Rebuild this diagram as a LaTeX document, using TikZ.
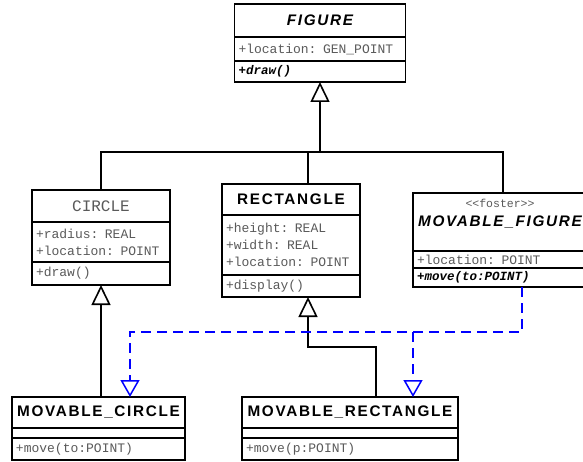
\documentclass[tikz,border=0pt]{standalone}
\usepackage{fontspec}
\setmainfont{Liberation Sans}
\newfontfamily\titlefont[LetterSpace=11]{Liberation Sans}
\newfontfamily\memberfont{Liberation Mono}
\usetikzlibrary{arrows.meta,positioning}
\definecolor{umlblue}{RGB}{0,0,255}
\definecolor{umlgray}{RGB}{90,90,90}
\tikzset{
  classpart/.style={draw, line width=1.6pt, fill=white, inner xsep=4pt, inner ysep=0pt, outer sep=0pt},
  classname/.style={classpart, align=center, font=\titlefont\bfseries\fontsize{15.3}{18}\selectfont},
  members/.style={classpart, align=left, text=umlgray, font=\memberfont\fontsize{13}{17}\selectfont},
  abstractop/.style={members, text=black, font=\memberfont\bfseries\itshape\fontsize{12.5}{17}\selectfont},
  tree/.style={line width=1.6pt},
  inherit/.style={tree, -{Triangle[open, length=20pt, width=19pt, fill=white]}},
  realize/.style={line width=1.5pt, umlblue, dash pattern=on 10pt off 6pt, -{Triangle[open, length=17pt, width=19pt, fill=white]}},
}
\begin{document}
\begin{tikzpicture}[x=1pt, y=1pt]
\clip (0,0) rectangle (583,-462);

% FIGURE
\node[classname, text width=163pt, minimum height=33pt, anchor=north] (figure) at (320,-4) {\itshape FIGURE};
\node[members, text width=163pt, minimum height=24pt, below=0pt of figure] (figattr) {+location: GEN\_POINT};
\node[abstractop, text width=163pt, minimum height=21pt, below=0pt of figattr] (figmeth) {+draw()};

% CIRCLE
\node[classname, font=\memberfont\fontsize{16}{19}\selectfont, text=umlgray, text width=130pt, minimum height=32pt, anchor=north] (circle) at (101,-190) {CIRCLE};
\node[members, text width=130pt, minimum height=40pt, below=0pt of circle] (circattr) {+radius: REAL\\+location: POINT};
\node[members, text width=130pt, minimum height=23pt, below=0pt of circattr] (circmeth) {+draw()};

% RECTANGLE
\node[classname, text width=130pt, minimum height=31pt, anchor=north] (rect) at (291,-184) {RECTANGLE};
\node[members, text width=130pt, minimum height=60pt, below=0pt of rect] (rectattr) {+height: REAL\\+width: REAL\\+location: POINT};
\node[members, text width=130pt, minimum height=22pt, below=0pt of rectattr] (rectmeth) {+display()};

% MOVABLE_FIGURE
\node[classname, text width=166pt, minimum height=58pt, anchor=north] (movfig) at (500,-193)
  {{\memberfont\mdseries\fontsize{11.5}{14}\selectfont\color{umlgray}<\kern0pt<foster>\kern0pt>}\\[1pt]
   \itshape MOVABLE\_FIGURE\\[1pt] \mbox{}};
\node[members, text width=166pt, minimum height=17pt, below=0pt of movfig] (movfigattr) {+location: POINT};
\node[abstractop, text width=166pt, minimum height=19pt, below=0pt of movfigattr] (movfigmeth) {+move(to:POINT)};

% MOVABLE_CIRCLE
\node[classname, text width=165pt, minimum height=31pt, anchor=north] (movcircle) at (98.5,-397) {MOVABLE\_CIRCLE};
\node[members, text width=165pt, minimum height=10pt, below=0pt of movcircle] (movcircattr) {};
\node[members, text width=165pt, minimum height=22pt, below=0pt of movcircattr] (movcircmeth) {+move(to:POINT)};

% MOVABLE_RECTANGLE
\node[classname, text width=208pt, minimum height=31pt, anchor=north] (movrect) at (350,-397) {MOVABLE\_RECTANGLE};
\node[members, text width=208pt, minimum height=10pt, below=0pt of movrect] (movrectattr) {};
\node[members, text width=208pt, minimum height=22pt, below=0pt of movrectattr] (movrectmeth) {+move(p:POINT)};

% generalization tree
\coordinate (fork) at (320,-152);
\draw[tree] (circle.north) |- (fork);
\draw[tree] ([xshift=17pt]rect.north) |- (fork);
\draw[tree] ([xshift=3pt]movfig.north) |- (fork);
\draw[inherit] (fork) -- (figmeth.south);

% subclasses
\draw[inherit] (movcircle.north -| circmeth.south) -- (circmeth.south);
\draw[inherit] ([xshift=26pt]movrect.north) |- ([xshift=17pt,yshift=-50pt]rectmeth.south) -- ([xshift=17pt]rectmeth.south);

% realization
\draw[realize] ([xshift=22pt]movfigmeth.south) |- ([xshift=31.5pt,yshift=65pt]movcircle.north) -- ([xshift=31.5pt]movcircle.north);
\draw[realize] ([xshift=63pt,yshift=65pt]movrect.north) -- ([xshift=63pt]movrect.north);
\end{tikzpicture}
\end{document}
